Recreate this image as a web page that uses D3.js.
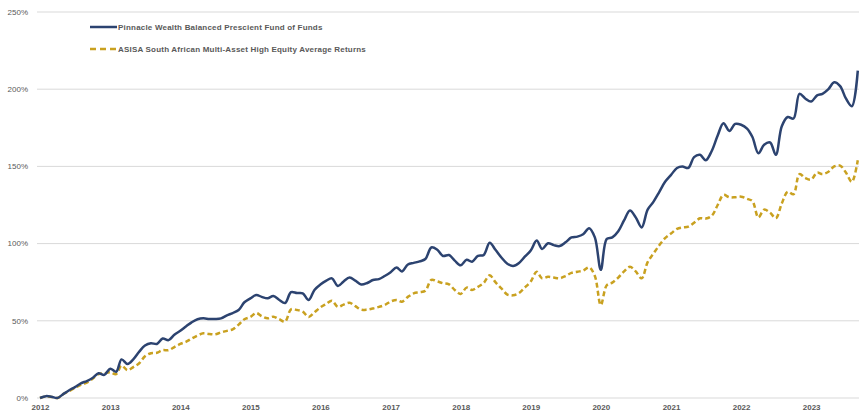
<!DOCTYPE html>
<html>
<head>
<meta charset="utf-8">
<script src="https://cdn.jsdelivr.net/npm/d3@7"></script>
<style>
	body { margin: 0; background: #fff; }
	text { font-family: "Liberation Sans", Arial, sans-serif; fill: #595959; }
	.grid line { stroke: #d9d9d9; stroke-width: 1px; }
</style>
</head>
<body>
<div id="chart"></div>
<script>
	// monthly cumulative returns (%), starting Jan 2012
	var startMonth = "2012-01";
	var yearLabels = ["2012", "2013", "2014", "2015", "2016", "2017", "2018", "2019", "2020", "2021", "2022", "2023"];
	var fundName = "Pinnacle Wealth Balanced Prescient Fund of Funds";
	var asisaName = "ASISA South African Multi-Asset High Equity Average Returns";
	var fund = [
		0, 1.2, 0.8, 0, 2.5, 5, 7, 9.5, 11, 13, 16, 15,
		19, 17, 25, 22, 25, 30, 34, 35.5, 35, 38.5, 37.5, 41,
		43.5, 46.5, 49, 51, 51.6, 51.2, 51.2, 51.6, 53.5, 55, 57, 62,
		64.5, 66.7, 65.5, 64.6, 66, 63.5, 61.5, 68.5, 68, 67.8, 63.5, 70,
		73.5, 76, 77.5, 72.5, 75.5, 78, 76, 73.5, 74.5, 76.4, 77, 79,
		81.5, 84.5, 82, 86.5, 87.5, 88.5, 90, 97.5, 96, 92, 92.6, 89,
		86, 89.5, 88.3, 92, 92.6, 100.5, 96, 91, 87, 85.5, 87.5, 91.5,
		95.5, 102, 96.5, 100.2, 99, 98.4, 100.8, 104, 104.5, 106, 110, 104,
		83, 103, 104, 108, 115, 121.5, 117, 110.5, 122, 127, 133.5, 140,
		144.5, 149, 150, 149, 156, 157.5, 154, 160, 170, 178, 173, 177.5,
		177, 174.5, 169, 158.5, 164, 165.5, 157.5, 176, 182, 181, 197, 194,
		192, 196, 197, 200, 204.5, 202, 194, 189, 212
	];
	var asisa = [
		0, 1, 0.7, 0, 2.5, 4.5, 6.5, 8.5, 10, 12.5, 15.5, 16,
		16.6, 15.5, 21, 18, 20, 22.5, 27, 29, 29.3, 31, 31, 33,
		35, 36.5, 38.5, 40.5, 41.9, 41.5, 41.2, 42.5, 43.5, 44.5, 47.5, 51,
		52.5, 55, 53, 51.6, 52.7, 51, 49.5, 57.4, 57, 55.9, 52.5, 55.5,
		58.7, 61, 63, 59, 60.5, 61.7, 59.5, 57.2, 57.3, 58, 59, 60.2,
		62.5, 63.5, 62.4, 65.5, 67.8, 68.5, 69.5, 76.5, 75.5, 74.3, 73.6, 70,
		67.4, 71.5, 70, 72, 74.5, 79.5, 75, 71, 67, 66.5, 68, 71.5,
		75.5, 81.8, 77.5, 78.5, 78, 77.5, 79, 81, 81.8, 82.5, 84.6, 79,
		60.2, 73, 74.7, 78, 82, 85, 82, 77.5, 88, 93.5, 99, 103.5,
		106.5, 109.5, 110.5, 111, 113.5, 116.4, 116.2, 118, 125, 131.5, 130, 130,
		130.4, 129, 127.5, 117, 122, 120, 116.5, 126, 133.6, 132, 145, 142.5,
		141.5, 146, 145, 146.5, 150, 150.5, 146, 140, 154
	];
	var yTicks = [0, 50, 100, 150, 200, 250];

	var mainWidth = 859, mainHeight = 412;
	var fundColor = "#2c4370", asisaColor = "#c9a120";

	var parseMonth = d3.timeParse("%Y-%m");
	var start = parseMonth(startMonth);
	var months = fund.map(function(d, i) { return d3.timeMonth.offset(start, i); });

	var xScale = d3.scaleTime()
		.domain([new Date(2012, 0, 1), new Date(2024, 0, 1)])
		.range([40, 40 + 12 * 70.1]);
	var yScale = d3.scaleLinear().domain([0, 250]).range([398, 12]);

	var svg = d3.select("#chart").append("svg")
		.attr("width", mainWidth).attr("height", mainHeight);

	// horizontal gridlines + y labels
	var grid = svg.append("g").attr("class", "grid");
	grid.selectAll("line").data(yTicks).enter().append("line")
		.attr("x1", 37).attr("x2", mainWidth)
		.attr("y1", function(d) { return yScale(d); })
		.attr("y2", function(d) { return yScale(d); });
	svg.append("g").selectAll("text").data(yTicks).enter().append("text")
		.attr("x", 28).attr("y", function(d) { return yScale(d); })
		.attr("dy", "0.35em").attr("text-anchor", "end")
		.style("font-size", "8px")
		.text(function(d) { return d + "%"; });

	// x axis labels (one per year)
	var yearDates = yearLabels.map(function(y) { return d3.timeParse("%Y")(y); });
	var xAxis = d3.axisBottom(xScale).tickValues(yearDates)
		.tickFormat(d3.timeFormat("%Y")).tickSize(0).tickPadding(6);
	var gx = svg.append("g").attr("transform", "translate(0," + 398 + ")").call(xAxis);
	gx.select(".domain").remove();
	gx.selectAll("text").style("font-size", "8px").style("font-weight", "bold")
		.style("font-family", "'Liberation Sans', Arial, sans-serif").attr("fill", "#595959");

	var line = d3.line()
		.x(function(d) { return xScale(d[0]); })
		.y(function(d) { return yScale(d[1]); })
		.curve(d3.curveCatmullRom.alpha(0.5));

	svg.append("path").datum(months.map(function(m, i) { return [m, asisa[i]]; }))
		.attr("d", line)
		.style("fill", "none").style("stroke", asisaColor)
		.style("stroke-width", "2.5px").style("stroke-dasharray", "5,3");

	svg.append("path").datum(months.map(function(m, i) { return [m, fund[i]]; }))
		.attr("d", line)
		.style("fill", "none").style("stroke", fundColor)
		.style("stroke-width", "2.5px");

	// legend
	var legend = svg.append("g");
	var items = [
		{ name: fundName, color: fundColor, dash: null, y: 27 },
		{ name: asisaName, color: asisaColor, dash: "6,4", y: 49 }
	];
	items.forEach(function(it) {
		legend.append("line")
			.attr("x1", 90).attr("x2", 117).attr("y1", it.y).attr("y2", it.y)
			.style("stroke", it.color).style("stroke-width", "2.5px")
			.style("stroke-dasharray", it.dash);
		legend.append("text")
			.attr("x", 118).attr("y", it.y).attr("dy", "0.35em")
			.style("font-size", "8px").style("font-weight", "bold")
			.style("letter-spacing", "0.2px")
			.text(it.name);
	});
</script>
</body>
</html>
